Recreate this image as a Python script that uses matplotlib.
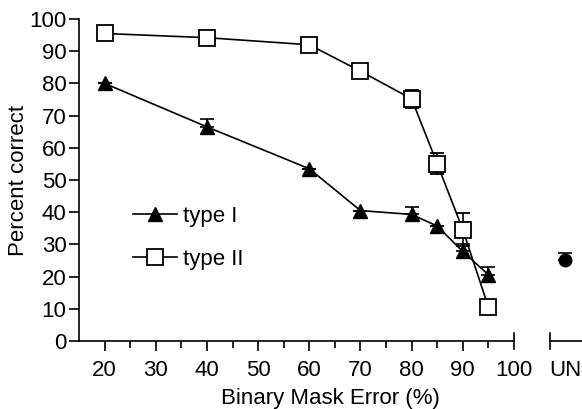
import matplotlib.pyplot as plt
import numpy as np
from matplotlib.lines import Line2D

plt.rcParams['font.family'] = ['Liberation Sans', 'DejaVu Sans']

# data
error_pct = [20, 40, 60, 70, 80, 85, 90, 95]
type1 = [80, 66.5, 53.5, 40.5, 39.3, 35.7, 27.8, 20.6]
type1_err = [0, 2.3, 0, 0, 2.3, 0, 2.3, 2.4]
type2 = [95.5, 94.2, 92.0, 83.8, 75.2, 55.1, 34.6, 10.6]
type2_err = [0, 0, 0, 0, 2.9, 3.3, 5.0, 0]
un_x = 110
un_val = 25.2
un_err = 2.2

fig = plt.figure(figsize=(5.82, 4.09), dpi=100)
ax = fig.add_axes([79 / 582, 1 - 341 / 409, 1 - 79 / 582, (341 - 19) / 409])

ax.errorbar(error_pct, type1, yerr=[np.zeros(len(type1_err)), type1_err],
            color='black', marker='^', markersize=10, lw=1.2, capsize=5,
            elinewidth=1.2, capthick=1.2, zorder=3)
ax.errorbar(error_pct, type2, yerr=type2_err,
            color='black', marker='s', markersize=11, mfc='white', mew=1.3,
            lw=1.2, capsize=5, elinewidth=1.2, capthick=1.2, zorder=4)
ax.errorbar([un_x], [un_val], yerr=[[0], [un_err]], color='black', marker='o',
            markersize=9, capsize=5, elinewidth=1.2, capthick=1.2, ls='none')

ax.set_xlim(15, 113.3)
ax.set_ylim(0, 100)
for s in ['top', 'right']:
    ax.spines[s].set_visible(False)
ax.spines['bottom'].set_bounds(15, 100)
ax.spines['left'].set_linewidth(1.2)
ax.spines['bottom'].set_linewidth(1.2)

# UN axis segment
ax.plot([107, 113.3], [0, 0], color='black', lw=1.2, clip_on=False)
ax.plot([100, 100], [-2.6, 2.6], color='black', lw=1.2, clip_on=False)
ax.plot([107, 107], [-2.6, 2.6], color='black', lw=1.2, clip_on=False)

ax.set_xticks(list(range(20, 101, 10)) + [un_x])
ax.set_xticklabels([str(v) for v in range(20, 101, 10)] + ['UN'])
ax.set_xticks(np.arange(25, 100, 10), minor=True)
ax.set_yticks(range(0, 101, 10))
ax.tick_params(axis='both', direction='out', length=7, width=1.2, labelsize=16, color='black')
ax.tick_params(axis='x', which='minor', direction='out', length=5, width=1.2)
ax.tick_params(axis='x', pad=7)
ax.tick_params(axis='y', pad=2)
ax.xaxis.get_major_ticks()[-1].tick1line.set_visible(False)
ax.xaxis.get_major_ticks()[-2].tick1line.set_visible(False)

ax.set_xlabel('Binary Mask Error (%)', fontsize=16, labelpad=5)
ax.set_ylabel('Percent correct', fontsize=16, labelpad=0)

handles = [Line2D([], [], color='black', lw=1.2, marker='^', markersize=10),
           Line2D([], [], color='black', lw=1.2, marker='s', markersize=11,
                  mfc='white', mew=1.3)]
ax.legend(handles, ['type I', 'type II'], loc='upper left',
          bbox_to_anchor=(0.107, 0.42), frameon=False,
          fontsize=16, handlelength=2.0, handletextpad=0.25, labelspacing=1.0,
          borderpad=0, borderaxespad=0)

fig.savefig('out.png', dpi=100)
